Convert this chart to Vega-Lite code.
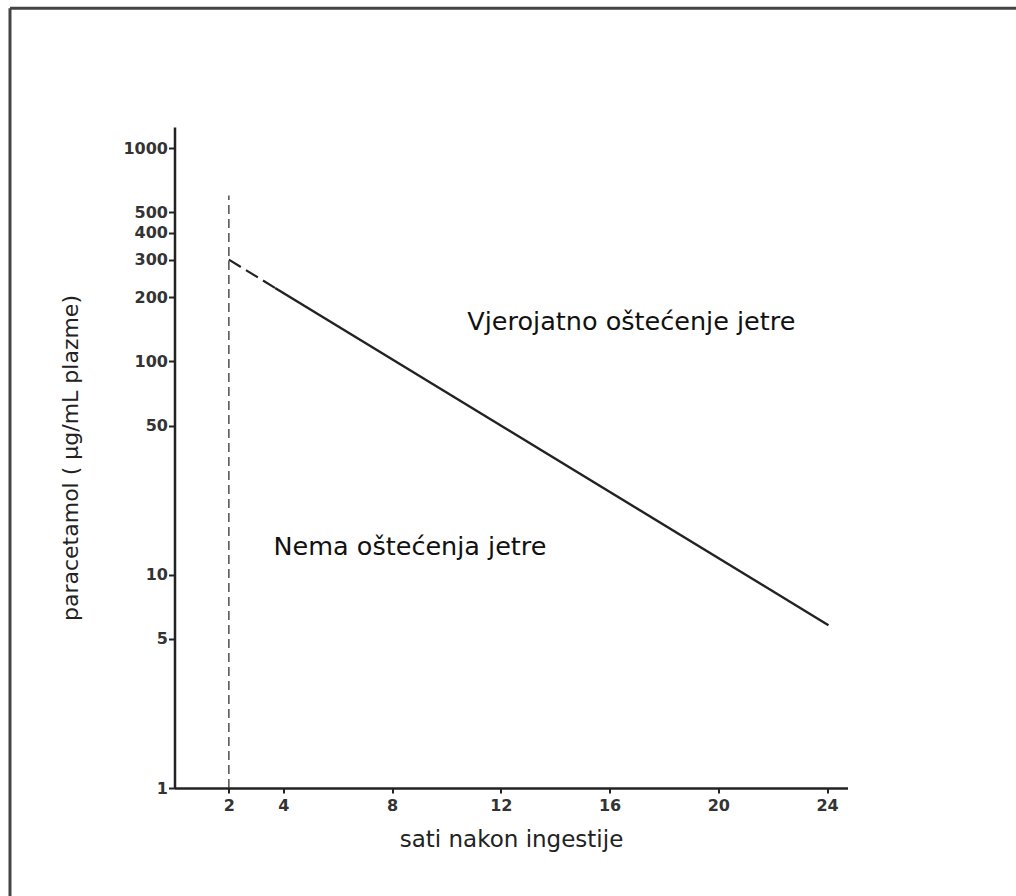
{
  "$schema": "https://vega.github.io/schema/vega-lite/v6.json",
  "width": 673,
  "height": 661,
  "autosize": "none",
  "padding": {"left": 174.5, "top": 127, "right": 168.5, "bottom": 108},
  "background": "white",
  "config": {"view": {"stroke": null}, "font": "DejaVu Sans"},
  "datasets": {
    "curve": [
      {"hours": 2, "conc": 300, "seg": "early"},
      {"hours": 3.7, "conc": 221, "seg": "early"},
      {"hours": 3.7, "conc": 221, "seg": "main"},
      {"hours": 24.05, "conc": 5.8, "seg": "main"}
    ],
    "limit": [{"hours": 2, "low": 1, "high": 600}],
    "labels": [
      {"hours": 16.8, "conc": 140, "label": "Vjerojatno oštećenje jetre"},
      {"hours": 8.66, "conc": 12.4, "label": "Nema oštećenja jetre"}
    ],
    "frame": [{"left": -6.05, "right": 40, "top": 4532, "bottom": 0.2}]
  },
  "layer": [
    {
      "data": {"name": "curve"},
      "transform": [{"filter": "datum.seg === 'early'"}],
      "mark": {"type": "line", "color": "#222", "strokeWidth": 2.2, "strokeDash": [14, 6]},
      "encoding": {
        "x": {
          "field": "hours", "type": "quantitative",
          "scale": {"domain": [0, 24.75], "nice": false, "zero": false},
          "axis": {
            "title": "sati nakon ingestije",
            "values": [2, 4, 8, 12, 16, 20, 24],
            "grid": false,
            "domainColor": "#222", "domainWidth": 2.5,
            "tickColor": "#222", "tickWidth": 2, "tickSize": 5,
            "labelFont": "DejaVu Sans", "labelFontWeight": "bold", "labelFontSize": 16,
            "labelColor": "#333", "labelPadding": 4, "labelFlush": false,
            "titleFont": "DejaVu Sans", "titleFontSize": 23, "titleFontWeight": "normal",
            "titleColor": "#222", "titlePadding": 15
          }
        },
        "y": {
          "field": "conc", "type": "quantitative",
          "scale": {"type": "log", "domain": [1, 1256], "nice": false},
          "axis": {
            "title": "paracetamol ( µg/mL plazme)",
            "values": [1, 5, 10, 50, 100, 200, 300, 400, 500, 1000],
            "format": "d",
            "grid": false,
            "domainColor": "#222", "domainWidth": 2.5,
            "tickColor": "#222", "tickWidth": 2, "tickSize": 6,
            "labelFont": "DejaVu Sans", "labelFontWeight": "bold", "labelFontSize": 16,
            "labelColor": "#333", "labelPadding": 1, "labelFlush": false, "labelOverlap": false,
            "titleFont": "DejaVu Sans", "titleFontSize": 22, "titleFontWeight": "normal",
            "titleColor": "#222", "titlePadding": 40
          }
        }
      }
    },
    {
      "data": {"name": "curve"},
      "transform": [{"filter": "datum.seg === 'main'"}],
      "mark": {"type": "line", "color": "#222", "strokeWidth": 2.4},
      "encoding": {
        "x": {"field": "hours", "type": "quantitative"},
        "y": {"field": "conc", "type": "quantitative"}
      }
    },
    {
      "data": {"name": "limit"},
      "mark": {"type": "rule", "color": "#333", "strokeWidth": 1.3, "strokeDash": [9, 5]},
      "encoding": {
        "x": {"field": "hours", "type": "quantitative"},
        "y": {"field": "low", "type": "quantitative"},
        "y2": {"field": "high"}
      }
    },
    {
      "data": {"name": "labels"},
      "mark": {"type": "text", "font": "DejaVu Sans", "fontSize": 25.5, "color": "#111", "align": "center", "baseline": "alphabetic"},
      "encoding": {
        "x": {"field": "hours", "type": "quantitative"},
        "y": {"field": "conc", "type": "quantitative"},
        "text": {"field": "label"}
      }
    },
    {
      "data": {"name": "frame"},
      "mark": {"type": "rule", "color": "#444", "strokeWidth": 3, "clip": false},
      "encoding": {
        "x": {"field": "left", "type": "quantitative"},
        "y": {"field": "top", "type": "quantitative"},
        "y2": {"field": "bottom"}
      }
    },
    {
      "data": {"name": "frame"},
      "mark": {"type": "rule", "color": "#444", "strokeWidth": 3, "clip": false},
      "encoding": {
        "y": {"field": "top", "type": "quantitative"},
        "x": {"field": "left", "type": "quantitative"},
        "x2": {"field": "right"}
      }
    }
  ]
}
